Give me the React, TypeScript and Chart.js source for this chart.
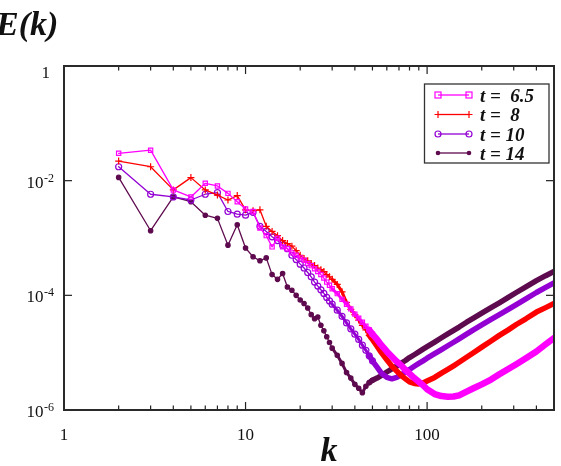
import React, { useEffect, useRef } from 'react';
import { Chart, registerables } from 'chart.js';

Chart.register(...registerables);

// wavenumbers
const kValues = [
  2, 3, 4, 5, 6, 7, 8, 9, 10, 11, 12, 13, 14, 15, 16, 17, 18, 19, 20,
  21, 22, 23, 24, 25, 26, 27, 28, 29, 30, 32, 34, 36, 38, 40, 42, 44, 46, 48, 50,
  53, 56, 60, 64, 68, 72, 76, 80, 85, 90, 95, 100, 110, 120, 130, 140, 150,
  165, 180, 200, 225, 250, 280, 310, 350, 400, 450, 500,
];

// E(k) at t = 6.5
const energyT65 = [
  0.030, 0.034, 0.0069, 0.0052, 0.0090, 0.0081, 0.0060, 0.0043, 0.0032, 0.0029, 0.0015,
  0.0011, 0.00070, 0.00099, 0.00070, 0.00065, 0.00055, 0.00050, 0.00045,
  0.00041, 0.00036, 0.00033, 0.00029, 0.00026, 0.00023, 0.00020, 0.00017, 0.00015, 0.00013,
  1.07e-4, 8.5e-5, 7.0e-5, 5.8e-5, 4.7e-5, 4.0e-5, 3.4e-5, 2.9e-5, 2.5e-5, 2.1e-5,
  1.7e-5, 1.35e-5, 1.05e-5, 8.5e-6, 7.0e-6, 6.0e-6, 5.0e-6, 4.3e-6, 3.6e-6, 3.1e-6, 2.7e-6,
  2.3e-6, 1.9e-6, 1.75e-6, 1.7e-6, 1.72e-6, 1.8e-6,
  2.1e-6, 2.4e-6, 2.8e-6, 3.4e-6, 4.2e-6, 5.2e-6, 6.3e-6, 8.0e-6, 1.05e-5, 1.4e-5, 1.8e-5,
];

// E(k) at t = 8
const energyT8 = [
  0.022, 0.0175, 0.0069, 0.0113, 0.0069, 0.0056, 0.0046, 0.0055, 0.0031, 0.0030, 0.0031,
  0.0016, 0.0013, 0.0011, 0.0009, 0.0008, 0.00072, 0.00060, 0.00050,
  0.00044, 0.00040, 0.00036, 0.00033, 0.00030, 0.00028, 0.00026, 0.00023, 0.00021, 0.00019,
  1.55e-4, 1.15e-4, 7.5e-5, 5.7e-5, 4.6e-5, 3.7e-5, 3.0e-5, 2.5e-5, 2.0e-5, 1.7e-5,
  1.3e-5, 1.0e-5, 7.5e-6, 5.8e-6, 4.8e-6, 4.0e-6, 3.5e-6, 3.1e-6, 2.9e-6, 2.85e-6, 2.95e-6,
  3.2e-6, 3.7e-6, 4.4e-6, 5.1e-6, 5.9e-6, 6.8e-6,
  8.3e-6, 1.0e-5, 1.25e-5, 1.6e-5, 2.0e-5, 2.5e-5, 3.1e-5, 3.9e-5, 5.1e-5, 6.1e-5, 7.2e-5,
];

// E(k) at t = 10
const energyT10 = [
  0.0175, 0.0058, 0.0052, 0.0046, 0.0058, 0.0062, 0.0029, 0.0026, 0.0025, 0.0028, 0.0016,
  0.0013, 0.00105, 0.0009, 0.00075, 0.00065, 0.00050, 0.00042, 0.00035,
  0.00030, 0.00025, 0.00021, 0.00017, 0.000145, 0.000125, 0.000108, 9.2e-5, 8.0e-5, 7.0e-5,
  5.5e-5, 4.3e-5, 3.3e-5, 2.6e-5, 2.1e-5, 1.7e-5, 1.35e-5, 1.1e-5, 8.8e-6, 7.2e-6,
  5.6e-6, 4.4e-6, 3.7e-6, 3.5e-6, 3.7e-6, 4.1e-6, 4.6e-6, 5.1e-6, 5.8e-6, 6.5e-6, 7.2e-6,
  8.0e-6, 9.6e-6, 1.13e-5, 1.32e-5, 1.52e-5, 1.74e-5,
  2.1e-5, 2.5e-5, 3.05e-5, 3.8e-5, 4.6e-5, 5.7e-5, 6.9e-5, 8.7e-5, 1.12e-4, 1.38e-4, 1.65e-4,
];

// E(k) at t = 14
const energyT14 = [
  0.0114, 0.00134, 0.0052, 0.0043, 0.0025, 0.0022, 0.00075, 0.0017, 0.00067, 0.00047, 0.00040,
  0.00045, 0.00023, 0.00019, 0.00024, 0.00014, 0.000123, 0.00010, 8.3e-5,
  7.2e-5, 6.0e-5, 4.6e-5, 3.9e-5, 4.2e-5, 3.0e-5, 2.4e-5, 1.9e-5, 1.5e-5, 1.2e-5,
  9.0e-6, 6.5e-6, 4.5e-6, 3.6e-6, 2.8e-6, 2.4e-6, 2.0e-6, 2.6e-6, 3.0e-6, 3.3e-6,
  3.6e-6, 4.0e-6, 4.6e-6, 5.2e-6, 5.8e-6, 6.6e-6, 7.3e-6, 8.2e-6, 9.2e-6, 1.03e-5, 1.15e-5,
  1.27e-5, 1.53e-5, 1.82e-5, 2.12e-5, 2.45e-5, 2.8e-5,
  3.4e-5, 4.0e-5, 4.9e-5, 6.1e-5, 7.4e-5, 9.2e-5, 1.12e-4, 1.4e-4, 1.8e-4, 2.2e-4, 2.6e-4,
];

const seriesLabels = ['t =  6.5', 't =  8', 't = 10', 't = 14'];
const seriesColors = ['#ff00ff', '#ff0000', '#9400d3', '#5e0a4e'];
const seriesMarkers = ['rect', 'cross', 'circle', 'circle'];

const xTickValues = [1, 10, 100];
const xTickLabels = ['1', '10', '100'];
const yTickValues = [1, 1e-2, 1e-4, 1e-6];
const yTickBases = ['1', '10', '10', '10'];
const yTickExps = ['', '-2', '-4', '-6'];

const SERIF = "'Liberation Serif', 'DejaVu Serif', serif";

function drawMarker(ctx: CanvasRenderingContext2D, i: number, x: number, y: number) {
  const c = seriesColors[i];
  ctx.strokeStyle = c;
  ctx.fillStyle = c;
  ctx.lineWidth = 1.2;
  if (i === 0) {
    ctx.strokeRect(x - 3, y - 3, 6, 6);
  } else if (i === 1) {
    ctx.beginPath();
    ctx.moveTo(x - 3.5, y); ctx.lineTo(x + 3.5, y);
    ctx.moveTo(x, y - 3.5); ctx.lineTo(x, y + 3.5);
    ctx.stroke();
  } else if (i === 2) {
    ctx.beginPath(); ctx.arc(x, y, 3, 0, Math.PI * 2); ctx.stroke();
  } else {
    ctx.beginPath(); ctx.arc(x, y, 2.3, 0, Math.PI * 2); ctx.fill();
  }
}

const overlayPlugin = {
  id: 'overlay',
  afterDraw(chart: any) {
    const { ctx, chartArea: a, scales } = chart;
    const xs = scales.x;
    const ys = scales.y;
    ctx.save();
    const line = (x1: number, y1: number, x2: number, y2: number) => {
      ctx.beginPath(); ctx.moveTo(x1, y1); ctx.lineTo(x2, y2); ctx.stroke();
    };
    ctx.strokeStyle = '#222';
    ctx.lineWidth = 1.2;
    for (let d = 0; d <= 2; d++) {
      for (let m = 1; m <= 9; m++) {
        const v = m * Math.pow(10, d);
        if (v > 500) break;
        const px = xs.getPixelForValue(v);
        const len = m === 1 ? 8 : 4.5;
        line(px, a.bottom, px, a.bottom - len);
        line(px, a.top, px, a.top + len);
      }
    }
    for (const v of [1e-2, 1e-4]) {
      const py = ys.getPixelForValue(v);
      line(a.left, py, a.left + 8, py);
      line(a.right, py, a.right - 8, py);
    }
    ctx.lineWidth = 2;
    ctx.strokeStyle = '#2a2a2a';
    ctx.strokeRect(a.left, a.top, a.right - a.left, a.bottom - a.top);

    // tick labels
    ctx.fillStyle = '#111';
    ctx.textBaseline = 'alphabetic';
    xTickValues.forEach((v, i) => {
      ctx.font = `17px ${SERIF}`;
      ctx.textAlign = 'center';
      ctx.fillText(xTickLabels[i], xs.getPixelForValue(v), 440);
    });
    yTickValues.forEach((v, i) => {
      const py = ys.getPixelForValue(v);
      const right = 54;
      if (!yTickExps[i]) {
        ctx.font = `17px ${SERIF}`;
        ctx.textAlign = 'right';
        ctx.fillText(yTickBases[i], 50, py + 12);
        return;
      }
      ctx.font = `12px ${SERIF}`;
      const ew = ctx.measureText(yTickExps[i]).width;
      ctx.textAlign = 'left';
      ctx.fillText(yTickExps[i], right - ew, py + 1);
      ctx.font = `17px ${SERIF}`;
      ctx.textAlign = 'right';
      ctx.fillText(yTickBases[i], right - ew - 0.5, py + 7);
    });

    // axis titles
    ctx.font = `bold italic 34px ${SERIF}`;
    ctx.textAlign = 'left';
    ctx.fillText('E(k)', -4, 35);
    ctx.textAlign = 'center';
    ctx.fillText('k', 329, 461);

    // legend
    const lx = 424.5, ly = 84, lw = 124.5, lh = 79;
    ctx.lineWidth = 1.3;
    ctx.strokeStyle = '#333';
    ctx.fillStyle = '#fff';
    ctx.fillRect(lx, ly, lw, lh);
    ctx.strokeRect(lx, ly, lw, lh);
    const rows = [95, 114.5, 134, 153];
    seriesLabels.forEach((lab, i) => {
      const y = rows[i];
      ctx.strokeStyle = seriesColors[i];
      ctx.lineWidth = 1.3;
      line(438, y, 469, y);
      drawMarker(ctx, i, 438, y);
      drawMarker(ctx, i, 469, y);
      ctx.fillStyle = '#111';
      ctx.font = `bold italic 19px ${SERIF}`;
      ctx.textAlign = 'left';
      ctx.fillText(lab, 480, y + 6.5);
    });
    ctx.restore();
  },
};

const seriesValues = [energyT65, energyT8, energyT10, energyT14];

export default function App() {
  const ref = useRef<HTMLCanvasElement>(null);
  useEffect(() => {
    document.body.style.margin = '0';
    const canvas = ref.current!;
    const datasets = seriesValues.map((vals, i) => ({
      label: seriesLabels[i],
      data: kValues.map((k, j) => ({ x: k, y: vals[j] })),
      showLine: true,
      borderColor: seriesColors[i],
      backgroundColor: i === 3 ? seriesColors[i] : 'rgba(0,0,0,0)',
      pointStyle: seriesMarkers[i] as any,
      pointBorderColor: seriesColors[i],
      pointBorderWidth: 1.2,
      pointRadius: (c: any) => {
        const k = kValues[c.dataIndex];
        if (k > 50) return 0;
        return i === 3 ? 2.2 : i === 1 ? 3.5 : 3;
      },
      borderWidth: 1.3,
      borderJoinStyle: 'round' as const,
      borderCapStyle: 'round' as const,
      segment: {
        borderWidth: (c: any) => {
          const k = c.p0.parsed.x;
          if (k >= 48) return i === 0 ? 6.5 : 5.5;
          if (k >= 30) return 3;
          return 1.3;
        },
      },
      tension: 0,
    }));
    const chart = new Chart(canvas, {
      type: 'scatter',
      data: { datasets },
      options: {
        responsive: false,
        animation: false,
        layout: { padding: { left: 64, top: 66, right: 7, bottom: 56 } },
        plugins: { legend: { display: false }, tooltip: { enabled: false } },
        scales: {
          x: { type: 'logarithmic', min: 1, max: 500, display: false },
          y: { type: 'logarithmic', min: 1e-6, max: 1, display: false },
        },
      },
      plugins: [overlayPlugin],
    });
    return () => chart.destroy();
  }, []);
  return (
    <div style={{ position: 'absolute', left: 0, top: 0, width: 561, height: 466, background: '#fff' }}>
      <canvas ref={ref} width={561} height={466} style={{ width: 561, height: 466, display: 'block' }} />
    </div>
  );
}
